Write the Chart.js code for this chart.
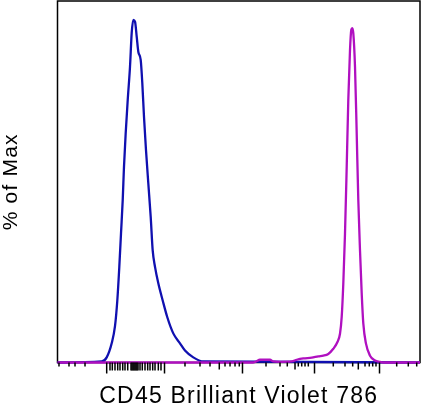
<!DOCTYPE html>
<html>
<head>
<meta charset="utf-8">
<script src="https://cdn.jsdelivr.net/npm/chart.js@4.4.1/dist/chart.umd.min.js"></script>
<style>
  html, body { margin: 0; padding: 0; background: #fff; }
  #wrap { width: 422px; height: 410px; }
</style>
</head>
<body>
<div id="wrap"><canvas id="histChart"></canvas></div>
<script>
// Histogram data, x in display channels (0-1000), y in % of max
const blueX = [0, 121.9, 135.7, 149.5, 158.6, 165.0, 170.5, 175.2, 179.9, 183.4, 188.1, 193.7, 200, 204.7, 209.1,
    213.8, 218.5, 222.9, 229.5, 233.9, 238.6, 244.1, 250.5, 257.1, 262.6, 269, 278.1, 290.2, 302.9, 319.4,
    337.9, 351.7, 374.6, 402.2, 1000];
const blueY = [0, 0.3, 1.5, 5.6, 10.6, 18.1, 27.9, 37.7, 47.4, 57.1, 66.9, 76.6, 86.3, 96.2, 100,
    99.5, 95.1, 90.7, 88.3, 81.6, 71.7, 62, 52.3, 42.5, 32.7, 27.9, 23.1, 18.1, 13.2, 8.5,
    5.6, 3.5, 1.5, 0.3, 0];

const magentaX = [0, 539.3, 547.6, 558.6, 586.2, 595.3, 613.8, 646.1, 659.9, 678.1, 701.2, 719.4, 733.2, 747,
    760.8, 771.9, 779.3, 784, 788.4, 793.1, 797.8, 802.2, 806.9, 810.5, 813.2, 816, 820.7, 825.4,
    829.8, 834.5, 839.2, 843.6, 851, 862.1, 875.9, 889.7, 897.9, 1000];
const magentaY = [0, 0, 0.3, 0.8, 0.8, 0.3, 0.2, 0.3, 0.8, 1.2, 1.4, 1.8, 2.0, 2.5,
    4.0, 5.9, 8.4, 13.3, 23.0, 37.6, 57.1, 76.6, 91.2, 97.1, 97.6, 96.1, 86.3, 66.8,
    47.4, 32.7, 20.1, 11.4, 5.5, 2.0, 0.6, 0.2, 0, 0];

// Axis tick marks (channels), no labels on the original
const majorTicks = [135.7, 295.2, 510.3, 709, 888.3];
const midTicks = [446.3, 655.2, 829.8];
const zeroTicks = [144.8, 151.2, 158.6, 166.1, 172.4, 179.9, 186.2, 193.7, 202.8, 205.5, 208.3, 211,
    213.8, 216.6, 219.3, 222.1, 227.6, 233.9, 241.4, 248.8, 255.2, 262.6, 269, 278.1, 285.5];
const minorTicks = [4.1, 31.7, 48.3, 75.9, 351.7, 393.1, 420.7, 462.1, 475.9, 489.7, 501.5,
    575.2, 613.8, 633.9, 664.3, 673.7, 682.8, 691.9, 760.8, 793.1, 814.3, 848.3, 860.1,
    869.5, 878.6, 935.7, 967.7, 990.9];

const xTitle = 'CD45 Brilliant Violet 786';
const yTitle = '% of Max';

function toPoints(xs, ys) {
    return xs.map((x, i) => ({ x: x, y: ys[i] }));
}

// the original labels are set a little wide
const spacingPlugin = {
    id: 'spacing',
    beforeDraw(chart) {
        chart.ctx.letterSpacing = '1.2px';
    }
};

const framePlugin = {
    id: 'frame',
    beforeDatasetsDraw(chart) {
        const { ctx, chartArea } = chart;
        ctx.save();
        ctx.strokeStyle = '#000';
        ctx.lineWidth = 1.5;
        ctx.strokeRect(chartArea.left, chartArea.top, chartArea.right - chartArea.left, chartArea.bottom - chartArea.top);
        ctx.restore();
    }
};

const tickPlugin = {
    id: 'logTicks',
    afterDraw(chart) {
        const { ctx, chartArea } = chart;
        const xScale = chart.scales.x;
        const groups = [
            { values: minorTicks, len: 4 },
            { values: zeroTicks, len: 8 },
            { values: midTicks, len: 7 },
            { values: majorTicks, len: 11 }
        ];
        ctx.save();
        ctx.strokeStyle = '#000';
        ctx.lineWidth = 1.5;
        groups.forEach(g => {
            g.values.forEach(v => {
                const px = xScale.getPixelForValue(v);
                ctx.beginPath();
                ctx.moveTo(px, chartArea.bottom);
                ctx.lineTo(px, chartArea.bottom + g.len);
                ctx.stroke();
            });
        });
        ctx.restore();
    }
};

const fontFamily = '"Liberation Sans", Arial, sans-serif';

new Chart(document.getElementById('histChart'), {
    type: 'scatter',
    data: {
        datasets: [{
            label: 'Stained',
            data: toPoints(magentaX, magentaY),
            showLine: true,
            borderColor: '#b010c0',
            borderWidth: 2.3,
            pointRadius: 0,
            cubicInterpolationMode: 'monotone',
            clip: 4
        }, {
            label: 'Control',
            data: toPoints(blueX, blueY),
            showLine: true,
            borderColor: '#1010b0',
            borderWidth: 2.3,
            pointRadius: 0,
            cubicInterpolationMode: 'monotone',
            clip: 4
        }]
    },
    options: {
        responsive: true,
        maintainAspectRatio: false,
        animation: false,
        layout: {
            padding: { top: 1, right: 2, bottom: 0, left: 0 }
        },
        plugins: {
            legend: { display: false },
            tooltip: { enabled: false }
        },
        scales: {
            x: {
                type: 'linear',
                min: 0,
                max: 1000,
                grid: { display: false },
                border: { display: false },
                ticks: { display: false },
                title: {
                    display: true,
                    text: xTitle,
                    color: '#000',
                    font: { family: fontFamily, size: 23, lineHeight: 1 },
                    padding: { top: 0, bottom: 1.5 }
                },
                afterFit(scale) { scale.height = 47.5; }
            },
            y: {
                min: 0,
                max: 105.5,
                grid: { display: false },
                border: { display: false },
                ticks: { display: false },
                title: {
                    display: true,
                    text: yTitle,
                    color: '#000',
                    font: { family: fontFamily, size: 21, lineHeight: 1 },
                    padding: { top: 0.5, bottom: 0 }
                },
                afterFit(scale) { scale.width = 57.5; }
            }
        }
    },
    plugins: [spacingPlugin, framePlugin, tickPlugin]
});
</script>
</body>
</html>
